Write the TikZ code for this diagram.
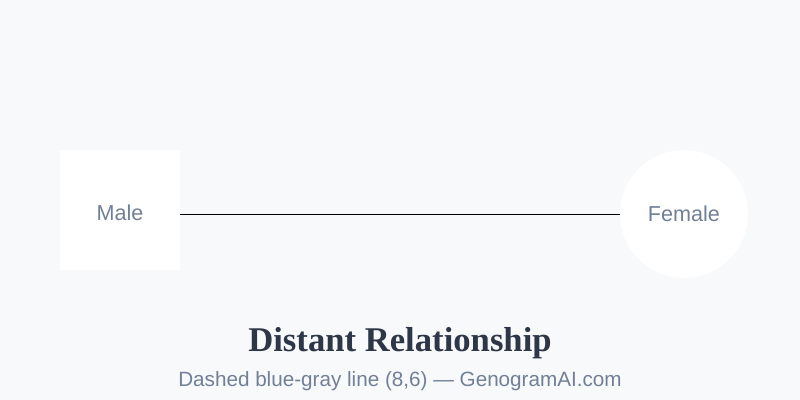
\documentclass[tikz,border=0pt]{standalone}
\usepackage{fontspec}
\setmainfont{Liberation Sans}
\newfontfamily\titlefont{Liberation Serif}
\usepackage{tikz}
\usetikzlibrary{positioning}
\definecolor{bgcol}{HTML}{F8F9FB}
\definecolor{labelcol}{HTML}{718096}
\definecolor{titlecol}{HTML}{2D3748}
\tikzset{person/.style={fill=white,draw=none,text=labelcol,font=\fontsize{16.2}{19}\selectfont},
         relline/.style={thin,black}}
\begin{document}
\begin{tikzpicture}[x=0.75pt,y=-0.75pt] % 1 unit = 1px
            \fill[bgcol] (0,0) rectangle (800,400); % background
            \node[person,minimum size=90pt] (male) at (120,210) {};
            \node[person] at (120,213) {Male};
            \node[person,circle,minimum size=96pt] (female) at (684,214) {Female};
            \draw[relline] (male.east |- female) -- (female.west);  % connector
            \node[text=titlecol,font=\titlefont\bfseries\fontsize{26}{30}\selectfont] (title) at (400,343) {Distant Relationship};
            \node[text=labelcol,font=\fontsize{15.5}{18}\selectfont] (sub) at (400,381) {Dashed blue-gray line (8,6) — GenogramAI.com};
        \end{tikzpicture}
\end{document}
